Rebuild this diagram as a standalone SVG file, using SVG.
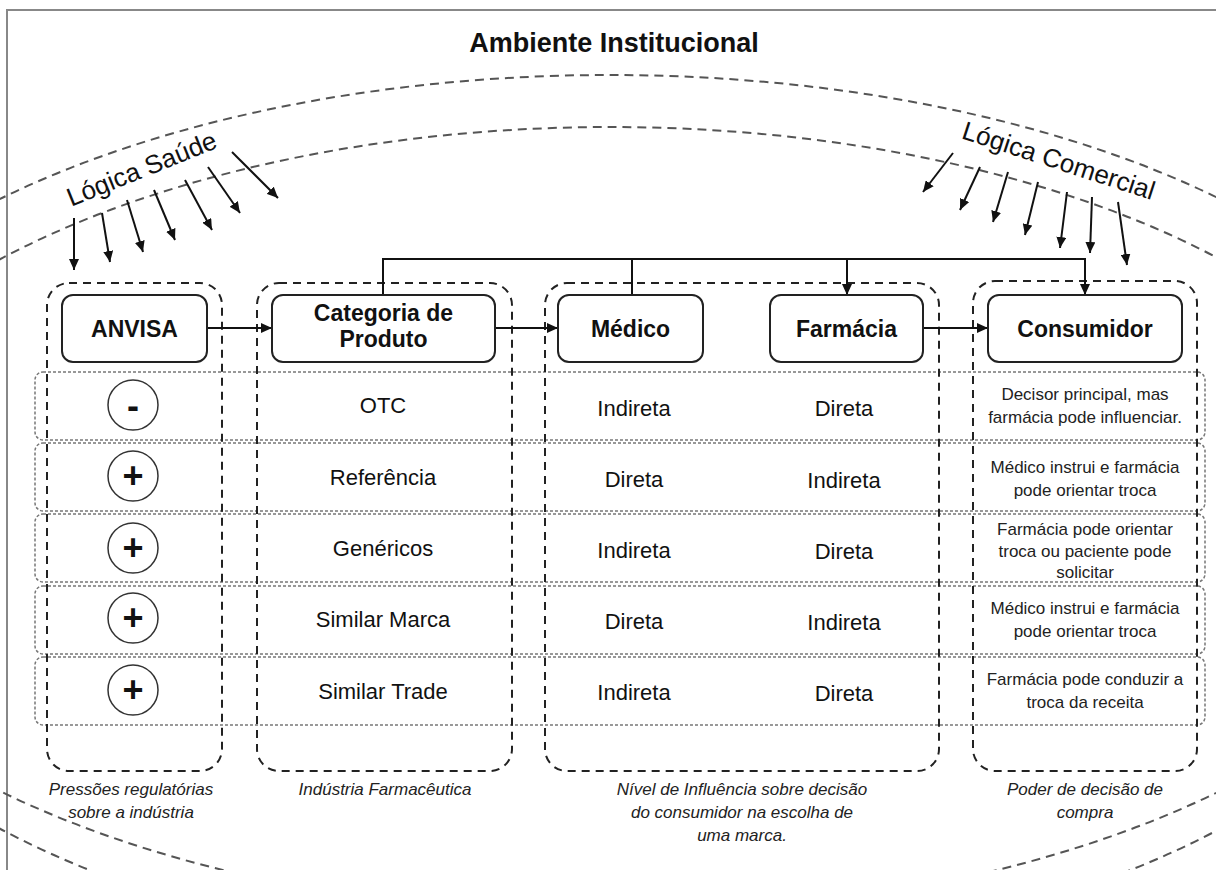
<svg xmlns="http://www.w3.org/2000/svg" width="1216" height="870" viewBox="0 0 1216 870">
  <defs>
    <marker id="arrow" markerUnits="userSpaceOnUse" markerWidth="11" markerHeight="10" refX="11" refY="5" orient="auto">
      <path d="M0,0 L11,5 L0,10 z" fill="#111"/>
    </marker>
    <style>
      text { font-family: "Liberation Sans", Arial, sans-serif; fill: #111; }
      .title { font-size: 27px; font-weight: bold; text-anchor: middle; }
      .logic { font-size: 26px; text-anchor: middle; }
      .node rect.box { fill: #fff; stroke: #222; stroke-width: 2; }
      .node text { font-size: 23px; font-weight: bold; text-anchor: middle; }
      .group { fill: none; stroke: #222; stroke-width: 2; stroke-dasharray: 8 6; }
      .row { fill: none; stroke: #777; stroke-width: 1.5; stroke-dasharray: 3 2; }
      .cell { font-size: 22px; text-anchor: middle; }
      .note { font-size: 17px; text-anchor: middle; fill: #222; }
      .caption { font-size: 17px; font-style: italic; text-anchor: middle; fill: #222; }
      .sign { fill: #fff; stroke: #333; stroke-width: 1.5; }
      .sym { font-size: 36px; font-weight: bold; text-anchor: middle; }
      .orbit { fill: none; stroke: #555; stroke-width: 2; stroke-dasharray: 9 6; }
      .conn line, .conn polyline { fill: none; stroke: #111; stroke-width: 2; }
    </style>
  </defs>

  <rect width="1216" height="870" fill="#fff"/>

  <!-- outer frame -->
  <path d="M7,870 V10 H1216" fill="none" stroke="#888" stroke-width="2"/>

  <!-- institutional environment rings -->
  <ellipse class="orbit" cx="610" cy="495" rx="860" ry="420"/>
  <ellipse class="orbit" cx="610" cy="544" rx="835" ry="417"/>

  <text class="title" x="614" y="52">Ambiente Institucional</text>

  <!-- logics -->
  <text class="logic" transform="translate(145,177) rotate(-22)">Lógica Saúde</text>
  <text class="logic" transform="translate(1056,169) rotate(18)">Lógica Comercial</text>

  <!-- category rows -->
  <g id="rows">
    <rect class="row" x="35" y="372" width="1170" height="68" rx="8"/>
    <rect class="row" x="35" y="443" width="1170" height="68" rx="8"/>
    <rect class="row" x="35" y="514" width="1170" height="68" rx="8"/>
    <rect class="row" x="35" y="586" width="1170" height="68" rx="8"/>
    <rect class="row" x="35" y="657" width="1170" height="68" rx="8"/>
  </g>

  <!-- column groups -->
  <g id="group-anvisa"><rect class="group" x="47" y="283" width="175" height="488" rx="22"/></g>
  <g id="group-industria"><rect class="group" x="257" y="283" width="255" height="488" rx="22"/></g>
  <g id="group-influencia"><rect class="group" x="545" y="283" width="394" height="488" rx="22"/></g>
  <g id="group-consumidor"><rect class="group" x="973" y="281" width="224" height="490" rx="22"/></g>

  <!-- connectors -->
  <g id="connectors" class="conn">
    <line x1="74" y1="218" x2="74" y2="270" marker-end="url(#arrow)"/>
    <line x1="102" y1="213" x2="110" y2="262" marker-end="url(#arrow)"/>
    <line x1="127" y1="200" x2="143" y2="252" marker-end="url(#arrow)"/>
    <line x1="154" y1="190" x2="175" y2="240" marker-end="url(#arrow)"/>
    <line x1="185" y1="180" x2="212" y2="230" marker-end="url(#arrow)"/>
    <line x1="208" y1="167" x2="240" y2="213" marker-end="url(#arrow)"/>
    <line x1="232" y1="152" x2="278" y2="198" marker-end="url(#arrow)"/>

    <line x1="953" y1="153" x2="923" y2="192" marker-end="url(#arrow)"/>
    <line x1="980" y1="167" x2="960" y2="210" marker-end="url(#arrow)"/>
    <line x1="1008" y1="172" x2="993" y2="222" marker-end="url(#arrow)"/>
    <line x1="1038" y1="182" x2="1025" y2="235" marker-end="url(#arrow)"/>
    <line x1="1067" y1="192" x2="1060" y2="248" marker-end="url(#arrow)"/>
    <line x1="1092" y1="197" x2="1090" y2="253" marker-end="url(#arrow)"/>
    <line x1="1118" y1="202" x2="1127" y2="265" marker-end="url(#arrow)"/>

    <line x1="207" y1="328" x2="272" y2="328" marker-end="url(#arrow)"/>
    <line x1="495" y1="328" x2="558" y2="328" marker-end="url(#arrow)"/>
    <line x1="923" y1="328" x2="988" y2="328" marker-end="url(#arrow)"/>
    <polyline points="383,295 383,259 1085,259 1085,295" marker-end="url(#arrow)"/>
    <line x1="632" y1="259" x2="632" y2="295"/>
    <line x1="847" y1="259" x2="847" y2="295" marker-end="url(#arrow)"/>
  </g>

  <!-- nodes -->
  <g id="anvisa" class="node">
    <rect class="box" x="62" y="295" width="145" height="67" rx="11"/>
    <text x="134.5" y="337">ANVISA</text>
  </g>
  <g id="categoria" class="node">
    <rect class="box" x="272" y="295" width="223" height="67" rx="11"/>
    <text x="383.5" y="321">Categoria de</text>
    <text x="383.5" y="347">Produto</text>
  </g>
  <g id="medico" class="node">
    <rect class="box" x="558" y="295" width="145" height="67" rx="11"/>
    <text x="630.5" y="337">Médico</text>
  </g>
  <g id="farmacia" class="node">
    <rect class="box" x="770" y="295" width="153" height="67" rx="11"/>
    <text x="846.5" y="337">Farmácia</text>
  </g>
  <g id="consumidor" class="node">
    <rect class="box" x="988" y="295" width="194" height="67" rx="11"/>
    <text x="1085" y="337">Consumidor</text>
  </g>

  <!-- regulatory pressure signs -->
  <g id="signs">
    <circle class="sign" cx="133" cy="405" r="25"/>
    <text class="sym" x="133" y="418">-</text>
    <circle class="sign" cx="133" cy="476" r="25"/>
    <text class="sym" x="133" y="488">+</text>
    <circle class="sign" cx="133" cy="548" r="25"/>
    <text class="sym" x="133" y="560">+</text>
    <circle class="sign" cx="133" cy="618" r="25"/>
    <text class="sym" x="133" y="630">+</text>
    <circle class="sign" cx="133" cy="690" r="25"/>
    <text class="sym" x="133" y="702">+</text>
  </g>

  <!-- product categories -->
  <g id="categorias">
    <text class="cell" x="383" y="413">OTC</text>
    <text class="cell" x="383" y="485">Referência</text>
    <text class="cell" x="383" y="556">Genéricos</text>
    <text class="cell" x="383" y="627">Similar Marca</text>
    <text class="cell" x="383" y="699">Similar Trade</text>
  </g>

  <!-- influence levels -->
  <g id="influencia">
    <text class="cell" x="634" y="416">Indireta</text>
    <text class="cell" x="844" y="416">Direta</text>
    <text class="cell" x="634" y="487">Direta</text>
    <text class="cell" x="844" y="488">Indireta</text>
    <text class="cell" x="634" y="558">Indireta</text>
    <text class="cell" x="844" y="559">Direta</text>
    <text class="cell" x="634" y="629">Direta</text>
    <text class="cell" x="844" y="630">Indireta</text>
    <text class="cell" x="634" y="700">Indireta</text>
    <text class="cell" x="844" y="701">Direta</text>
  </g>

  <!-- purchase decision notes -->
  <g id="decisao">
    <text class="note" x="1085" y="400">Decisor principal, mas</text>
    <text class="note" x="1085" y="423">farmácia pode influenciar.</text>
    <text class="note" x="1085" y="473">Médico instrui e farmácia</text>
    <text class="note" x="1085" y="496">pode orientar troca</text>
    <text class="note" x="1085" y="535">Farmácia pode orientar</text>
    <text class="note" x="1085" y="557">troca ou paciente pode</text>
    <text class="note" x="1085" y="578">solicitar</text>
    <text class="note" x="1085" y="614">Médico instrui e farmácia</text>
    <text class="note" x="1085" y="637">pode orientar troca</text>
    <text class="note" x="1085" y="685">Farmácia pode conduzir a</text>
    <text class="note" x="1085" y="708">troca da receita</text>
  </g>

  <!-- column captions -->
  <g id="captions">
    <text class="caption" x="131" y="795">Pressões regulatórias</text>
    <text class="caption" x="131" y="818">sobre a indústria</text>
    <text class="caption" x="385" y="795">Indústria Farmacêutica</text>
    <text class="caption" x="742" y="795">Nível de Influência sobre decisão</text>
    <text class="caption" x="742" y="818">do consumidor na escolha de</text>
    <text class="caption" x="742" y="841">uma marca.</text>
    <text class="caption" x="1085" y="795">Poder de decisão de</text>
    <text class="caption" x="1085" y="818">compra</text>
  </g>
</svg>
